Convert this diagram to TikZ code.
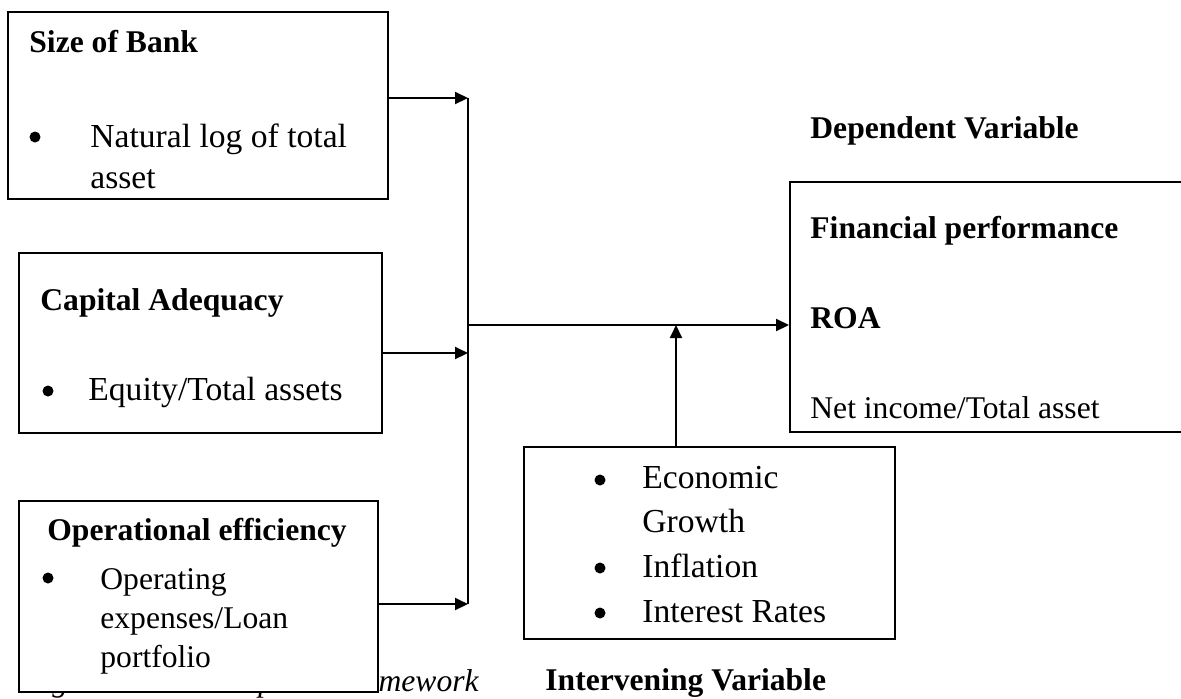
\documentclass[tikz,border=0pt]{standalone}
\usepackage{fontspec}
\setmainfont{Liberation Serif}
\usetikzlibrary{arrows.meta, positioning, calc}

\tikzset{
  box/.style={draw, line width=1pt, fill=white, inner sep=0pt, anchor=north west},
  head/.style={font=\bfseries\fontsize{15.8}{19}\selectfont, anchor=base west, inner sep=0pt},
  item/.style={font=\fontsize{16.8}{20}\selectfont, anchor=base west, inner sep=0pt},
  plain/.style={font=\fontsize{15.8}{19}\selectfont, anchor=base west, inner sep=0pt},
  dot/.style={circle, fill, inner sep=0pt, minimum size=5.5pt},
  link/.style={->, line width=1pt},
}

\begin{document}
\begin{tikzpicture}[x=0.5pt,y=-0.5pt,>={Triangle[length=6.5pt,width=6pt]}]
\useasboundingbox (0,0) rectangle (1181,698);

% --- Didascalia (in parte coperta dal riquadro)
\node[font=\itshape\fontsize{15.8}{19}\selectfont, anchor=base east, inner sep=0pt]
  (caption) at (479,691) {Figure 2.1: Conceptual Framework};

% --- Variabili indipendenti
\node[box, minimum width=190pt, minimum height=93.5pt] (szbox) at (7,11) {};
\node[head] (sztitle) at (29,52) {Size of Bank};
\node[dot] (szdot) at (35,137) {};
\node[item] (szitemA) at (90,147) {Natural log of total};
\node[item] (szitemB) at (90,188) {asset};

\node[box, minimum width=181.5pt, minimum height=90pt] (cabox) at (18,252) {};
\node[head] (catitle) at (40,310) {Capital Adequacy};
\node[dot] (cadot) at (48,391) {};
\node[item] (caitem) at (88,400) {Equity/Total assets};

\node[box, minimum width=179.5pt, minimum height=95.5pt] (opbox) at (18,500) {};
\node[head] (optitle) at (47,540) {Operational efficiency};
\node[dot] (opdot) at (48,578) {};
\node[plain] (opitemA) at (100,589) {Operating};
\node[plain] (opitemB) at (100,628) {expenses/Loan};
\node[plain] (opitemC) at (100,667) {portfolio};

% --- Variabile dipendente
\node[head] (deplabel) at (810,138) {Dependent Variable};
\node[box, minimum width=210.5pt, minimum height=125pt] (depbox) at (789,181) {};
\node[head] (deptitle) at (810,238) {Financial performance};
\node[head] (roa) at (810,328) {ROA};
\node[plain] (depnote) at (810,418) {Net income/Total asset};

% --- Variabile interveniente
\node[box, minimum width=185.5pt, minimum height=96pt] (intbox) at (523,446) {};
\foreach \n/\y in {a/480,b/568,c/613}{
  \node[dot] (intdot\n) at (600,\y) {};
}
\node[item] (intA) at (642,488) {Economic};
\node[item] (intB) at (642,532) {Growth};
\node[item] (intC) at (642,577) {Inflation};
\node[item] (intD) at (642,622) {Interest Rates};
\node[head] (intlabel) at (545,690) {Intervening Variable};

% --- Collegamenti
\coordinate (busA) at (468,98);
\coordinate (busB) at (468,353);
\coordinate (busC) at (468,604);
\coordinate (busM) at (468,325);
\coordinate (up) at (676,325);

\draw[line width=0.7pt] (busA) -- (busC);
\draw[link] (szbox.east |- busA) -- (busA);
\draw[link] (cabox.east |- busB) -- (busB);
\draw[link] (opbox.east |- busC) -- (busC);
\draw[link] (busM) -- (depbox.west |- busM);
\draw[link] (intbox.north -| up) -- (up);

\end{tikzpicture}
\end{document}
